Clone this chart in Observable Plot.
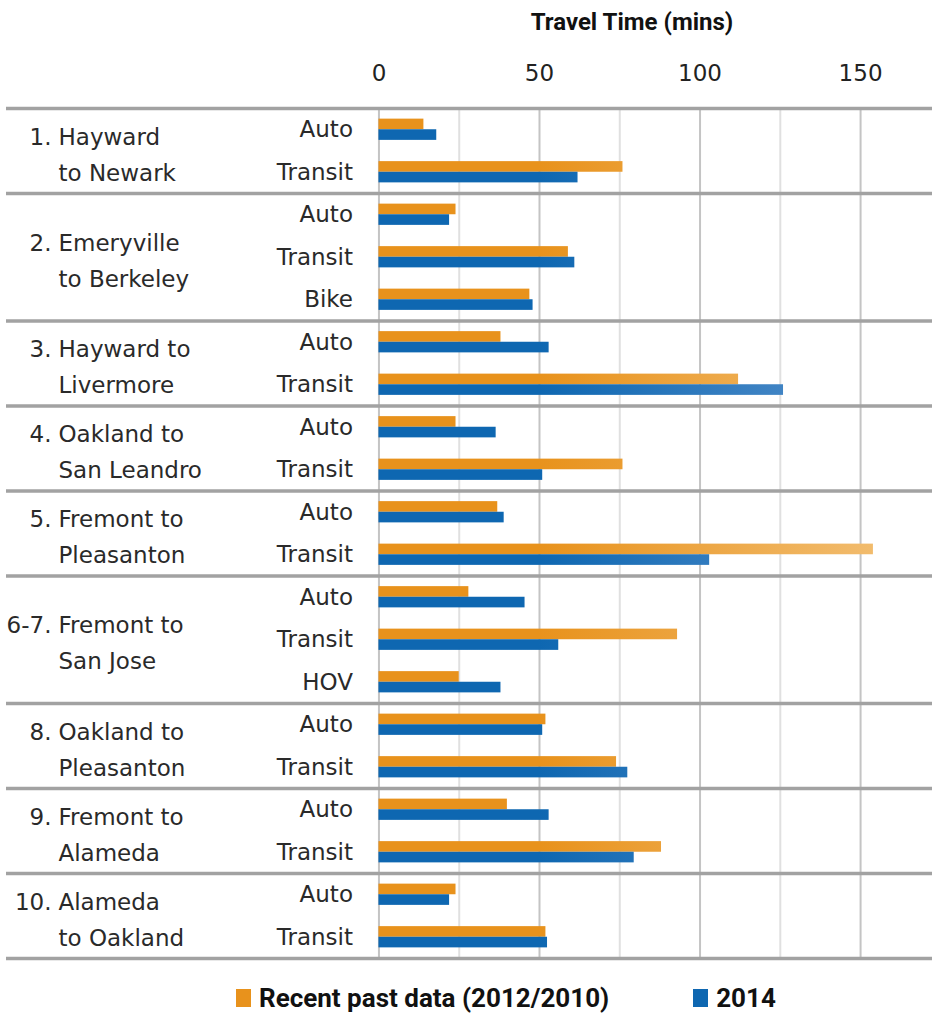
<!DOCTYPE html>
<html>
<head>
<meta charset="utf-8">
<script src="https://cdn.jsdelivr.net/npm/d3@7"></script>
<script src="https://cdn.jsdelivr.net/npm/@observablehq/plot@0.6"></script>
<style>
  html, body { margin: 0; padding: 0; background: #fff; }
  #wrap { width: 932px; position: relative; }
  #title {
    height: 44px; box-sizing: border-box; padding-top: 8px; padding-left: 332px; text-align: center;
    font: bold 24px/28px Roboto, "DejaVu Sans", sans-serif; color: #111;
  }
  #legend {
    height: 47px; display: flex; align-items: center; padding-left: 236px; padding-top: 12px;
    box-sizing: border-box;
    font: bold 26px Roboto, "DejaVu Sans", sans-serif; color: #111;
  }
  #legend .sw { display: inline-block; width: 15px; height: 18px; margin-right: 8px; }
  #legend .item { display: flex; align-items: center; }
  #legend .item + .item { margin-left: 84px; }
  svg { display: block; }
</style>
</head>
<body>
<div id="wrap">
  <div id="title">Travel Time (mins)</div>
  <div id="chart"></div>
  <div id="legend"></div>
</div>
<script>
// Corridor labels (number, then the route split over two lines)
const corridors = [
  "1. Hayward\nto Newark",
  "2. Emeryville\nto Berkeley",
  "3. Hayward to\nLivermore",
  "4. Oakland to\nSan Leandro",
  "5. Fremont to\nPleasanton",
  "6-7. Fremont to\nSan Jose",
  "8. Oakland to\nPleasanton",
  "9. Fremont to\nAlameda",
  "10. Alameda\nto Oakland"
];

// One entry per bar row: which corridor it belongs to, and the travel mode
const rowCorridor = [0, 0, 1, 1, 1, 2, 2, 3, 3, 4, 4, 5, 5, 5, 6, 6, 7, 7, 8, 8];
const rowMode = [
  "Auto", "Transit",
  "Auto", "Transit", "Bike",
  "Auto", "Transit",
  "Auto", "Transit",
  "Auto", "Transit",
  "Auto", "Transit", "HOV",
  "Auto", "Transit",
  "Auto", "Transit",
  "Auto", "Transit"
];

// Travel times in minutes
const recentPast = [14, 76, 24, 59, 47, 38, 112, 24, 76, 37, 154, 28, 93, 25, 52, 74, 40, 88, 24, 52];
const year2014 = [18, 62, 22, 61, 48, 53, 126, 36.5, 51, 39, 103, 45.5, 56, 38, 51, 77.5, 53, 79.5, 22, 52.5];

const xTicks = [0, 50, 100, 150];
const gridValues = [0, 25, 50, 75, 100, 125, 150];

const seriesNames = ["Recent past data (2012/2010)", "2014"];
const ORANGE = "#e8921c", ORANGE_LIGHT = "#f2bd70";
const BLUE = "#0e67b1", BLUE_LIGHT = "#5590cc";

// Build the row table
const rows = rowMode.map((mode, i) => ({
  row: i,
  mode,
  corridor: rowCorridor[i],
  past: recentPast[i],
  now: year2014[i]
}));

// Corridor extents (first row index, row count)
const corridorSpans = corridors.map((label, c) => {
  const idx = rows.filter(r => r.corridor === c).map(r => r.row);
  const start = d3.min(idx), end = d3.max(idx) + 1;
  const sp = label.indexOf(" ");
  return {number: label.slice(0, sp), name: label.slice(sp + 1), start, end, mid: (start + end) / 2};
});
const majorLines = [0, ...corridorSpans.map(s => s.end)];
const minorLines = rows.filter(r => r.row > 0 && rowCorridor[r.row - 1] === r.corridor).map(r => r.row);

// Horizontal fade toward the long end of the bars
function fades(index, {x}) {
  const defs = d3.create("svg:defs");
  for (const [id, c0, c1] of [["fadePast", ORANGE, ORANGE_LIGHT], ["fade2014", BLUE, BLUE_LIGHT]]) {
    const g = defs.append("linearGradient")
      .attr("id", id)
      .attr("gradientUnits", "userSpaceOnUse")
      .attr("x1", x(50)).attr("x2", x(158))
      .attr("y1", 0).attr("y2", 0);
    g.append("stop").attr("offset", 0).attr("stop-color", c0);
    g.append("stop").attr("offset", 1).attr("stop-color", c1);
  }
  return defs.node();
}

const labelFont = "'DejaVu Sans', sans-serif";

const chart = Plot.plot({
  width: 932,
  height: 924,
  marginTop: 64,
  marginBottom: 10,
  marginLeft: 6,
  marginRight: 0,
  style: {fontFamily: labelFont, color: "#333", background: "#fff"},
  x: {domain: [-116, 172.4], axis: null},
  y: {domain: [0, rows.length], reverse: true, axis: null},
  marks: [
    fades,
    // vertical grid
    Plot.ruleX(gridValues, {stroke: d => d % 50 === 0 ? "#c4c4c4" : "#e0e0e0", strokeWidth: 2}),
    // light separators between modes within a corridor
    Plot.ruleY(minorLines, {y: d => d, x1: () => 0, stroke: "#cfcfcf", strokeWidth: 2}),
    // bars
    Plot.rect(rows, {x1: () => 0, x2: "past", y1: d => d.row + 0.25, y2: d => d.row + 0.5, fill: "url(#fadePast)"}),
    Plot.rect(rows, {x1: () => 0, x2: "now", y1: d => d.row + 0.5, y2: d => d.row + 0.75, fill: "url(#fade2014)"}),
    // corridor separators
    Plot.ruleY(majorLines, {stroke: "#a2a2a2", strokeWidth: 3.5}),
    // top axis tick labels
    Plot.axisX({anchor: "top", ticks: xTicks, tickSize: 0, tickPadding: 28, fontSize: 23, label: null, tickFormat: d => d, fill: "#222"}),
    // mode labels next to the bars
    Plot.text(rows, {x: () => 0, y: d => d.row + 0.5, text: "mode", textAnchor: "end", dx: -26, fontSize: 23, fill: "#2a2a2a"}),
    // corridor labels: number hangs left of the route name
    Plot.text(corridorSpans, {y: "mid", text: d => d.number + "\n", frameAnchor: "left", textAnchor: "end", dx: 45, lineAnchor: "middle", lineHeight: 1.57, fontSize: 23, fill: "#2a2a2a"}),
    Plot.text(corridorSpans, {y: "mid", text: "name", frameAnchor: "left", textAnchor: "start", dx: 52, lineAnchor: "middle", lineHeight: 1.57, fontSize: 23, fill: "#2a2a2a"})
  ]
});

document.getElementById("chart").append(chart);

// legend
const legend = d3.select("#legend");
[[seriesNames[0], ORANGE], [seriesNames[1], BLUE]].forEach(([name, color]) => {
  const item = legend.append("span").attr("class", "item");
  item.append("span").attr("class", "sw").style("background", color);
  item.append("span").text(name);
});
</script>
</body>
</html>
